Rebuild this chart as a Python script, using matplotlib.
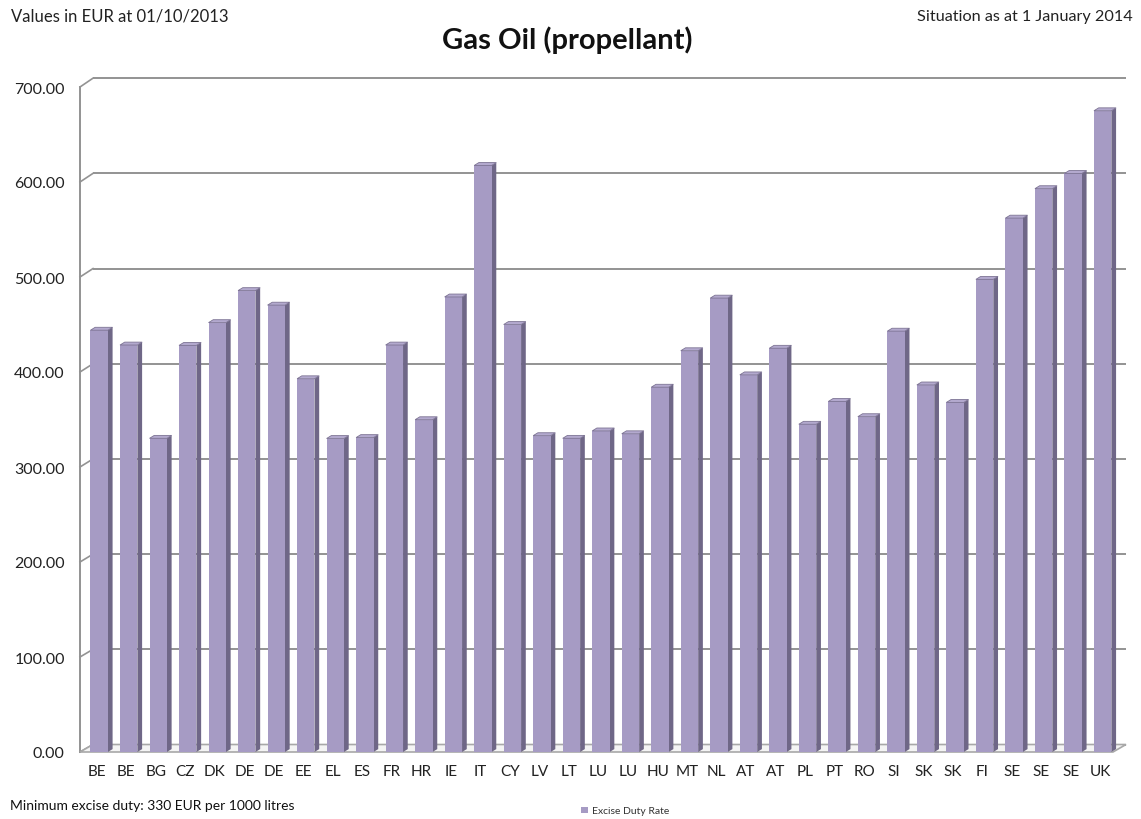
import numpy as np
import matplotlib.pyplot as plt
from matplotlib.patches import Polygon

# Excise duty on gas oil used as propellant, EUR per 1000 litres
countries = ['BE', 'BE', 'BG', 'CZ', 'DK', 'DE', 'DE', 'EE', 'EL', 'ES', 'FR', 'HR',
             'IE', 'IT', 'CY', 'LV', 'LT', 'LU', 'LU', 'HU', 'MT', 'NL', 'AT', 'AT',
             'PL', 'PT', 'RO', 'SI', 'SK', 'SK', 'FI', 'SE', 'SE', 'SE', 'UK']
rates = [444.0, 428.4, 330.2, 428.0, 452.0, 485.7, 470.4, 392.9, 330.0, 331.0, 428.4, 349.8,
         479.0, 617.4, 450.0, 333.0, 330.2, 338.0, 335.0, 384.0, 422.4, 477.8, 397.0, 425.0,
         345.0, 369.0, 353.0, 443.0, 386.4, 368.0, 497.5, 562.0, 593.0, 609.0, 675.0]
y_ticks = np.arange(0, 701, 100)

W, H, DPI = 1141, 820, 100
plt.rcParams['font.family'] = ['Lato', 'DejaVu Sans']
fig = plt.figure(figsize=(W / DPI, H / DPI), dpi=DPI)

# front plane of the chart box, in pixels
left, right, bottom, top = 80, 1113, 753, 88
ax = fig.add_axes([left / W, 1 - bottom / H, (right - left) / W, (bottom - top) / H])
n = len(countries)
x0, x1 = -0.65, n - 0.65
ax.set_xlim(x0, x1)
ax.set_ylim(0, 700)
ax.set_facecolor('none')
for s in ax.spines.values():
    s.set_visible(False)

px_x = (right - left) / n          # pixels per category
px_y = (bottom - top) / 700        # pixels per EUR

# depth of the back wall and of each column, in pixels
wall_dx, wall_dy = 13, 7.5
bar_dx, bar_dy = 4.7, 2.9
wdx = wall_dx / px_x
bdx, bdy = bar_dx / px_x, bar_dy / px_y


def back_y(v):
    # back wall sits a little higher and is slightly stretched
    return v * 1.002 + wall_dy / px_y


grid_col = '#939393'
# gridlines on the back wall and the diagonal ticks on the side wall
for v in y_ticks:
    ax.plot([x0 + wdx, x1 + wdx], [back_y(v), back_y(v)], color=grid_col, lw=1.4,
            zorder=1, clip_on=False, solid_capstyle='butt')
    ax.plot([x0, x0 + wdx], [v, back_y(v)], color=grid_col, lw=1.2, zorder=1, clip_on=False)
ax.plot([x0, x0], [0, 700], color=grid_col, lw=1.4, zorder=1, clip_on=False)

# floor
floor = Polygon([(x0, 0), (x1, 0), (x1 + wdx, back_y(0)), (x0 + wdx, back_y(0))],
                closed=True, facecolor='#f4f4f4', edgecolor='#a8a8a8', lw=1.2,
                zorder=2, clip_on=False)
ax.add_patch(floor)

x = np.arange(n)
width = 0.59
bars = ax.bar(x, rates, width=width, color='#A69BC4', zorder=4, label='Excise Duty Rate')

# side and top faces of the columns
for xi, v in zip(x, rates):
    xl, xr = xi - width / 2, xi + width / 2
    side = Polygon([(xr, 0), (xr + bdx, bdy), (xr + bdx, v + bdy), (xr, v)],
                   closed=True, facecolor='#6F6787', edgecolor='none', zorder=3, clip_on=False)
    cap = Polygon([(xl, v), (xr, v), (xr + bdx, v + bdy), (xl + bdx, v + bdy)],
                  closed=True, facecolor='#B3A9CE', edgecolor='#7d7494', lw=0.6,
                  zorder=5, clip_on=False)
    ax.add_patch(side)
    ax.add_patch(cap)

ax.set_yticks(y_ticks)
ax.set_yticklabels([f'{v:.2f}' for v in y_ticks])
ax.set_xticks(x - 0.08)
ax.set_xticklabels(countries)
ax.tick_params(axis='y', length=0, pad=11, labelsize=11.5, labelcolor='#222222')
ax.tick_params(axis='x', length=0, pad=9, labelsize=11, labelcolor='#222222')

fig.text(567 / W, 1 - 40 / H, 'Gas Oil (propellant)', ha='center', va='center',
         fontsize=21, fontweight='bold', color='#111111')
fig.text(11 / W, 1 - 17 / H, 'Values in EUR at 01/10/2013', ha='left', va='center',
         fontsize=12, color='#222222')
fig.text(1133 / W, 1 - 17 / H, 'Situation as at 1 January 2014', ha='right', va='center',
         fontsize=11.7, color='#222222')
fig.text(10 / W, 1 - 806 / H, 'Minimum excise duty: 330 EUR per 1000 litres', ha='left',
         va='center', fontsize=10, color='#111111')

fig.legend(handles=[bars], labels=['Excise Duty Rate'], loc='center left',
           bbox_to_anchor=(572 / W, 1 - 812 / H), frameon=False, fontsize=7.5,
           handlelength=0.6, handleheight=0.6, handletextpad=0.4, labelcolor='#333333')

fig.savefig('out.png', dpi=DPI)
